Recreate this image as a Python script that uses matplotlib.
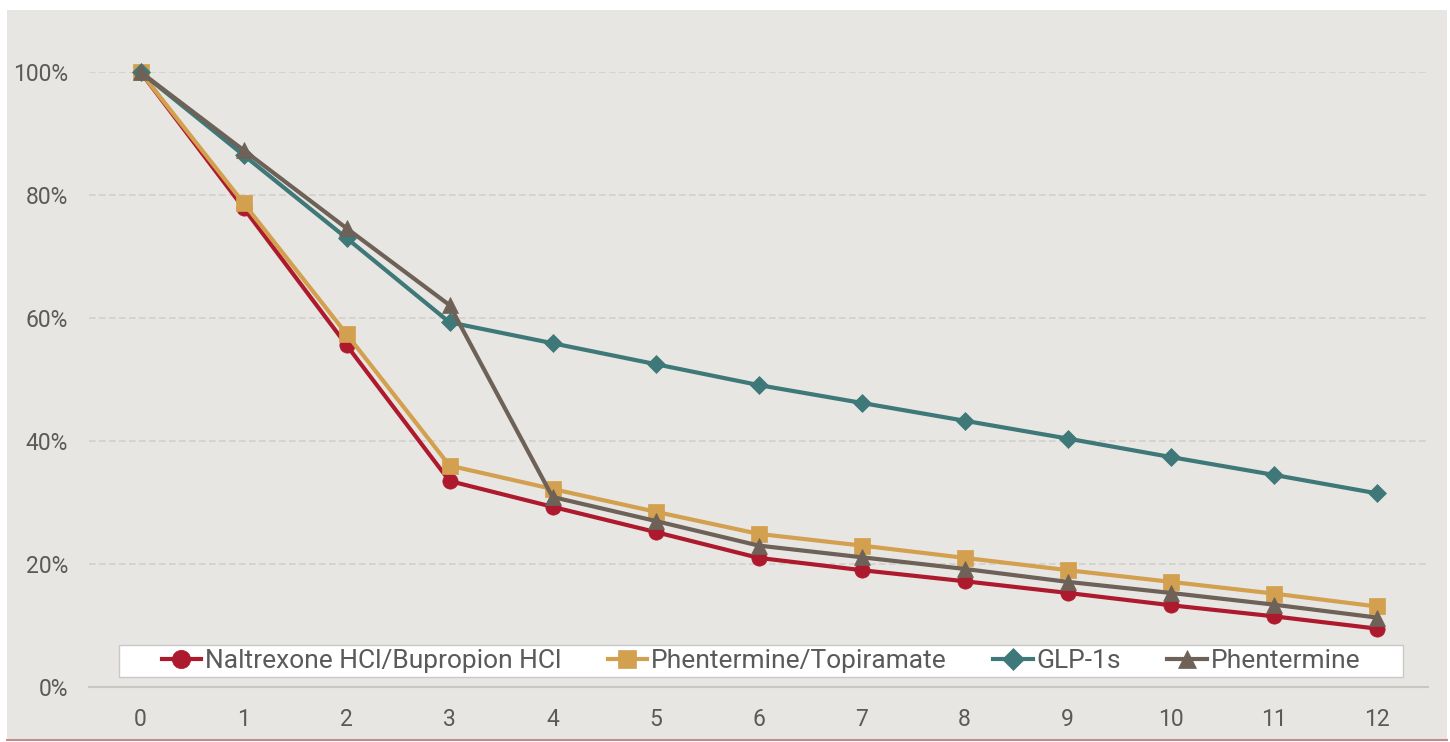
import matplotlib.pyplot as plt
from matplotlib.patches import Rectangle
from matplotlib.lines import Line2D
from matplotlib.ticker import PercentFormatter

# months since start
months = list(range(13))

# share of patients still on therapy (%)
naltrexone = [100, 77.9, 55.6, 33.5, 29.3, 25.2, 21.0, 19.0, 17.2, 15.3, 13.3, 11.5, 9.5]
phen_topi = [100, 78.7, 57.4, 36.0, 32.2, 28.5, 24.9, 23.0, 21.0, 19.0, 17.1, 15.2, 13.1]
glp1 = [100, 86.5, 73.0, 59.3, 55.9, 52.5, 49.1, 46.2, 43.3, 40.4, 37.4, 34.5, 31.5]
phentermine = [100, 87.3, 74.6, 62.1, 30.9, 27.0, 23.0, 21.1, 19.2, 17.1, 15.3, 13.4, 11.3]

names = ["Naltrexone HCl/Bupropion HCl", "Phentermine/Topiramate", "GLP-1s", "Phentermine"]
series = [naltrexone, phen_topi, glp1, phentermine]
colors = ["#AE1A2D", "#D2A04F", "#3E7878", "#6D6158"]
markers = ["o", "s", "D", "^"]
msizes = [11, 11, 9, 11]

plt.rcParams['font.family'] = ['Roboto', 'DejaVu Sans']

fig = plt.figure(figsize=(14.5, 7.42), dpi=100)
fig.patch.set_facecolor("white")

# grey panel behind the chart, thin rose line at the bottom
fig.patches.append(Rectangle((7 / 1450, 2 / 742), 1440 / 1450, 730 / 742,
                             transform=fig.transFigure, facecolor="#E8E6E2",
                             edgecolor="none", zorder=-2))
fig.lines.append(Line2D([7 / 1450, 1447 / 1450], [2.5 / 742, 2.5 / 742],
                        transform=fig.transFigure, color="#C48A8E", lw=1.5,
                        zorder=-1))

ax = fig.add_axes([89 / 1450, 55 / 742, 1339 / 1450, 615 / 742])
ax.set_facecolor("none")
ax.set_zorder(1)

for vals, name, c, m, ms in zip(series, names, colors, markers, msizes):
    ax.plot(months, vals, color=c, lw=3.0, marker=m, markersize=ms,
            markeredgecolor=c, markeredgewidth=0.5, label=name,
            clip_on=False, zorder=3)

ax.set_xlim(-0.5, 12.5)
ax.set_ylim(0, 100)
ax.set_xticks(months)
ax.set_yticks([0, 20, 40, 60, 80, 100])
ax.yaxis.set_major_formatter(PercentFormatter(decimals=0))

ax.grid(axis="y", color="#D2D0CC", linestyle=(0, (4, 2)), lw=1.2)
ax.set_axisbelow(True)
for s in ["top", "right", "left"]:
    ax.spines[s].set_visible(False)
ax.spines["bottom"].set_color("#C9C7C3")
ax.spines["bottom"].set_linewidth(1.5)
ax.spines["bottom"].set_zorder(2)

ax.tick_params(axis="both", length=0, labelsize=16.5, colors="#5A5A5A", pad=15)

# white legend band
ax.add_patch(Rectangle(((119 - 89) / 1339, 10 / 615), 1284 / 1339, 32 / 615,
                       transform=ax.transAxes, facecolor="white",
                       edgecolor="#C8C8C8", lw=1, zorder=4))
leg = ax.legend(loc="center", bbox_to_anchor=((761 - 89) / 1339, 26 / 615),
                ncol=4, frameon=False, fontsize=19, handlelength=1.5,
                handletextpad=0.15, columnspacing=1.75, borderpad=0,
                markerscale=1.2)
leg.set_zorder(5)
for t in leg.get_texts():
    t.set_color("#5A5A5A")

fig.savefig("out.png", dpi=100)
